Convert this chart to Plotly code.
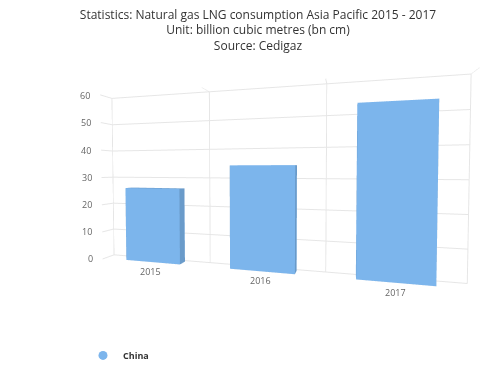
import plotly.graph_objects as go

years = ["2015", "2016", "2017"]
china = [26.2, 34.3, 52.6]
y_ticks = [0, 10, 20, 30, 40, 50, 60]

BAR_COLOR = "#7cb5ec"
half_w = 0.27
depth = (0.2, 0.8)

fig = go.Figure()

for i, v in enumerate(china):
    x0, x1 = i - half_w, i + half_w
    y0, y1 = depth
    xs = [x0, x1, x1, x0, x0, x1, x1, x0]
    ys = [y0, y0, y1, y1, y0, y0, y1, y1]
    zs = [0, 0, 0, 0, v, v, v, v]
    fig.add_trace(go.Mesh3d(
        x=xs, y=ys, z=zs,
        i=[0, 0, 4, 4, 0, 0, 1, 1, 2, 2, 3, 3],
        j=[1, 2, 5, 6, 1, 5, 2, 6, 3, 7, 0, 4],
        k=[2, 3, 6, 7, 5, 4, 6, 5, 7, 6, 4, 7],
        color=BAR_COLOR, flatshading=True,
        lighting=dict(ambient=0.85, diffuse=0.25, specular=0.0, roughness=1, fresnel=0),
        lightposition=dict(x=-1000, y=-3000, z=500),
        showlegend=False, hoverinfo="skip",
    ))

# legend entry
fig.add_trace(go.Scatter(x=[None], y=[None], mode="markers", name="China",
                         marker=dict(color=BAR_COLOR, size=9, symbol="circle"),
                         showlegend=True))

axis_common = dict(showbackground=True, backgroundcolor="white",
                   gridcolor="#e6e6e6", linecolor="#e6e6e6", zeroline=False,
                   showspikes=False, title=dict(text=""),
                   tickfont=dict(size=9, color="#666666", family="Open Sans"))

cat_bounds = [-0.5, 0.5, 1.5, 2.5]
label_font = dict(size=9, color="#666666", family="Open Sans")

annotations = [dict(x=i, y=0, z=0, text=yr, showarrow=False, yshift=-8, font=label_font)
               for i, yr in enumerate(years)]
annotations += [dict(x=-0.5, y=0, z=t, text=str(t), showarrow=False, xanchor="right",
                     xshift=-8, font=label_font) for t in y_ticks]

fig.update_layout(
    width=500, height=375,
    paper_bgcolor="white", plot_bgcolor="white",
    margin=dict(l=0, r=0, t=0, b=0),
    title=dict(text="Statistics: Natural gas LNG consumption Asia Pacific 2015 - 2017<br>Unit: billion cubic metres (bn cm)<br>Source: Cedigaz",
               x=0.5, y=0.972, xanchor="center", yanchor="top",
               font=dict(size=12, color="#333333", family="Open Sans")),
    xaxis=dict(visible=False), yaxis=dict(visible=False),
    scene=dict(
        domain=dict(x=[0.02, 1.0], y=[0.195, 0.895]),
        xaxis=dict(axis_common, tickvals=cat_bounds, ticktext=["", "", "", ""],
                   range=[-0.5, 2.5], ticks=""),
        yaxis=dict(axis_common, showticklabels=False, range=[0, 1], showgrid=False),
        zaxis=dict(axis_common, tickvals=y_ticks, range=[0, 60], showticklabels=False, ticks=""),
        aspectmode="manual", aspectratio=dict(x=2.05, y=0.1, z=1.02),
        camera=dict(eye=dict(x=0.45, y=-1.7, z=0.05), center=dict(x=0, y=0, z=0),
                    up=dict(x=0, y=0, z=1), projection=dict(type="perspective")),
        annotations=annotations,
    ),
    legend=dict(x=0.15, y=0.035, xanchor="left", yanchor="bottom",
                font=dict(size=9, color="#333333", family="Open Sans", weight="bold"),
                bgcolor="rgba(0,0,0,0)", itemwidth=30),
    showlegend=True,
)

fig.write_html("out.html")
